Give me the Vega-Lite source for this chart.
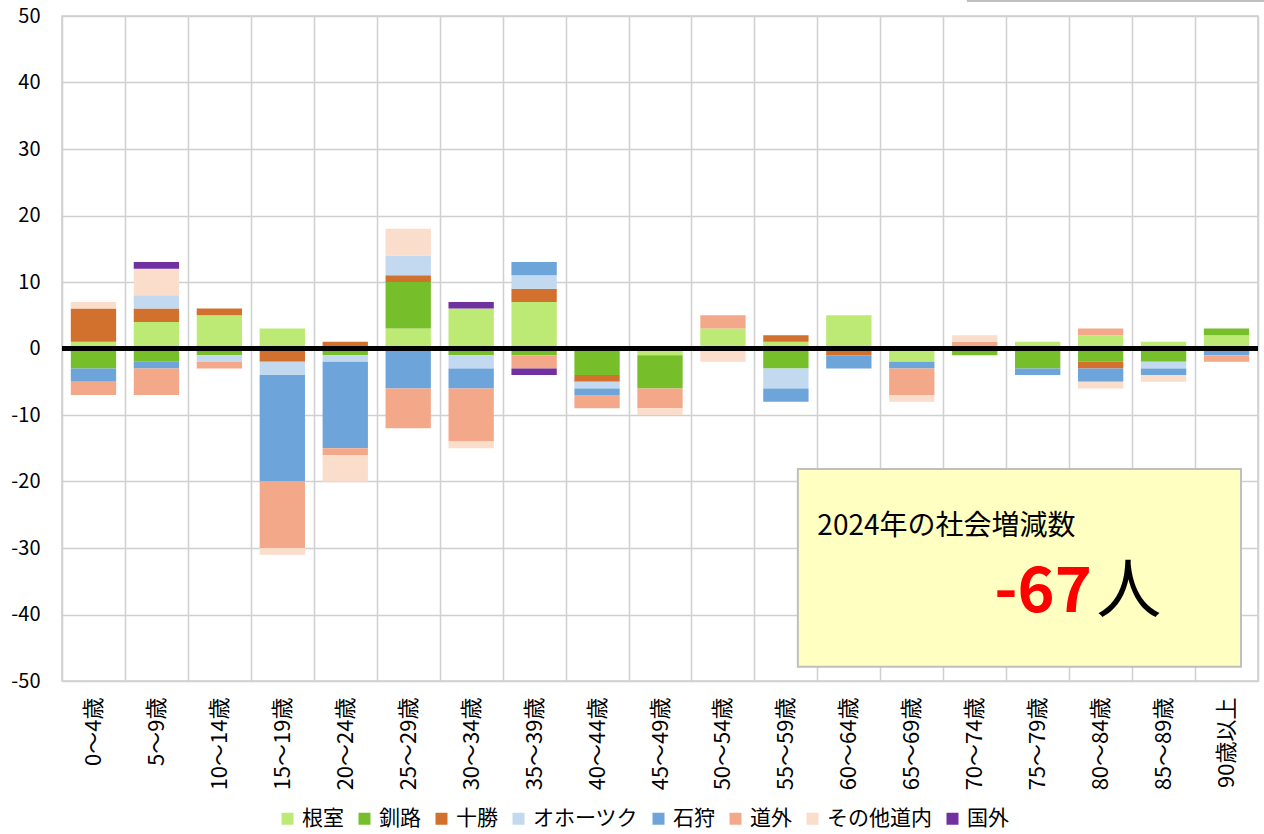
{
  "$schema": "https://vega.github.io/schema/vega-lite/v6.json",
  "width": 1196,
  "height": 665,
  "autosize": {"type": "none"},
  "padding": {"left": 62, "top": 16, "right": 6, "bottom": 153},
  "config": {
    "font": "Noto Sans CJK JP",
    "view": {"stroke": "#d0d0d0", "strokeWidth": 1.5},
    "axis": {"gridColor": "#d0d0d0", "gridWidth": 1.5, "labelColor": "#000000", "domain": false, "ticks": false}
  },
  "layer": [
    {
      "data": {"values": [
        {"age": "0～4歳", "region": "根室", "value": 1, "k": 1},
        {"age": "0～4歳", "region": "十勝", "value": 5, "k": 3},
        {"age": "0～4歳", "region": "その他道内", "value": 1, "k": 7},
        {"age": "0～4歳", "region": "釧路", "value": -3, "k": 2},
        {"age": "0～4歳", "region": "石狩", "value": -2, "k": 5},
        {"age": "0～4歳", "region": "道外", "value": -2, "k": 6},
        {"age": "5～9歳", "region": "根室", "value": 4, "k": 1},
        {"age": "5～9歳", "region": "十勝", "value": 2, "k": 3},
        {"age": "5～9歳", "region": "オホーツク", "value": 2, "k": 4},
        {"age": "5～9歳", "region": "その他道内", "value": 4, "k": 7},
        {"age": "5～9歳", "region": "国外", "value": 1, "k": 8},
        {"age": "5～9歳", "region": "釧路", "value": -2, "k": 2},
        {"age": "5～9歳", "region": "石狩", "value": -1, "k": 5},
        {"age": "5～9歳", "region": "道外", "value": -4, "k": 6},
        {"age": "10～14歳", "region": "根室", "value": 5, "k": 1},
        {"age": "10～14歳", "region": "十勝", "value": 1, "k": 3},
        {"age": "10～14歳", "region": "釧路", "value": -1, "k": 2},
        {"age": "10～14歳", "region": "オホーツク", "value": -1, "k": 4},
        {"age": "10～14歳", "region": "道外", "value": -1, "k": 6},
        {"age": "15～19歳", "region": "根室", "value": 3, "k": 1},
        {"age": "15～19歳", "region": "十勝", "value": -2, "k": 3},
        {"age": "15～19歳", "region": "オホーツク", "value": -2, "k": 4},
        {"age": "15～19歳", "region": "石狩", "value": -16, "k": 5},
        {"age": "15～19歳", "region": "道外", "value": -10, "k": 6},
        {"age": "15～19歳", "region": "その他道内", "value": -1, "k": 7},
        {"age": "20～24歳", "region": "十勝", "value": 1, "k": 3},
        {"age": "20～24歳", "region": "釧路", "value": -1, "k": 2},
        {"age": "20～24歳", "region": "オホーツク", "value": -1, "k": 4},
        {"age": "20～24歳", "region": "石狩", "value": -13, "k": 5},
        {"age": "20～24歳", "region": "道外", "value": -1, "k": 6},
        {"age": "20～24歳", "region": "その他道内", "value": -4, "k": 7},
        {"age": "25～29歳", "region": "根室", "value": 3, "k": 1},
        {"age": "25～29歳", "region": "釧路", "value": 7, "k": 2},
        {"age": "25～29歳", "region": "十勝", "value": 1, "k": 3},
        {"age": "25～29歳", "region": "オホーツク", "value": 3, "k": 4},
        {"age": "25～29歳", "region": "その他道内", "value": 4, "k": 7},
        {"age": "25～29歳", "region": "石狩", "value": -6, "k": 5},
        {"age": "25～29歳", "region": "道外", "value": -6, "k": 6},
        {"age": "30～34歳", "region": "根室", "value": 6, "k": 1},
        {"age": "30～34歳", "region": "国外", "value": 1, "k": 8},
        {"age": "30～34歳", "region": "釧路", "value": -1, "k": 2},
        {"age": "30～34歳", "region": "オホーツク", "value": -2, "k": 4},
        {"age": "30～34歳", "region": "石狩", "value": -3, "k": 5},
        {"age": "30～34歳", "region": "道外", "value": -8, "k": 6},
        {"age": "30～34歳", "region": "その他道内", "value": -1, "k": 7},
        {"age": "35～39歳", "region": "根室", "value": 7, "k": 1},
        {"age": "35～39歳", "region": "十勝", "value": 2, "k": 3},
        {"age": "35～39歳", "region": "オホーツク", "value": 2, "k": 4},
        {"age": "35～39歳", "region": "石狩", "value": 2, "k": 5},
        {"age": "35～39歳", "region": "釧路", "value": -1, "k": 2},
        {"age": "35～39歳", "region": "道外", "value": -2, "k": 6},
        {"age": "35～39歳", "region": "国外", "value": -1, "k": 8},
        {"age": "40～44歳", "region": "釧路", "value": -4, "k": 2},
        {"age": "40～44歳", "region": "十勝", "value": -1, "k": 3},
        {"age": "40～44歳", "region": "オホーツク", "value": -1, "k": 4},
        {"age": "40～44歳", "region": "石狩", "value": -1, "k": 5},
        {"age": "40～44歳", "region": "道外", "value": -2, "k": 6},
        {"age": "45～49歳", "region": "根室", "value": -1, "k": 1},
        {"age": "45～49歳", "region": "釧路", "value": -5, "k": 2},
        {"age": "45～49歳", "region": "道外", "value": -3, "k": 6},
        {"age": "45～49歳", "region": "その他道内", "value": -1, "k": 7},
        {"age": "50～54歳", "region": "根室", "value": 3, "k": 1},
        {"age": "50～54歳", "region": "道外", "value": 2, "k": 6},
        {"age": "50～54歳", "region": "その他道内", "value": -2, "k": 7},
        {"age": "55～59歳", "region": "根室", "value": 1, "k": 1},
        {"age": "55～59歳", "region": "十勝", "value": 1, "k": 3},
        {"age": "55～59歳", "region": "釧路", "value": -3, "k": 2},
        {"age": "55～59歳", "region": "オホーツク", "value": -3, "k": 4},
        {"age": "55～59歳", "region": "石狩", "value": -2, "k": 5},
        {"age": "60～64歳", "region": "根室", "value": 5, "k": 1},
        {"age": "60～64歳", "region": "十勝", "value": -1, "k": 3},
        {"age": "60～64歳", "region": "石狩", "value": -2, "k": 5},
        {"age": "65～69歳", "region": "根室", "value": -2, "k": 1},
        {"age": "65～69歳", "region": "石狩", "value": -1, "k": 5},
        {"age": "65～69歳", "region": "道外", "value": -4, "k": 6},
        {"age": "65～69歳", "region": "その他道内", "value": -1, "k": 7},
        {"age": "70～74歳", "region": "道外", "value": 1, "k": 6},
        {"age": "70～74歳", "region": "その他道内", "value": 1, "k": 7},
        {"age": "70～74歳", "region": "釧路", "value": -1, "k": 2},
        {"age": "75～79歳", "region": "根室", "value": 1, "k": 1},
        {"age": "75～79歳", "region": "釧路", "value": -3, "k": 2},
        {"age": "75～79歳", "region": "石狩", "value": -1, "k": 5},
        {"age": "80～84歳", "region": "根室", "value": 2, "k": 1},
        {"age": "80～84歳", "region": "道外", "value": 1, "k": 6},
        {"age": "80～84歳", "region": "釧路", "value": -2, "k": 2},
        {"age": "80～84歳", "region": "十勝", "value": -1, "k": 3},
        {"age": "80～84歳", "region": "石狩", "value": -2, "k": 5},
        {"age": "80～84歳", "region": "その他道内", "value": -1, "k": 7},
        {"age": "85～89歳", "region": "根室", "value": 1, "k": 1},
        {"age": "85～89歳", "region": "釧路", "value": -2, "k": 2},
        {"age": "85～89歳", "region": "オホーツク", "value": -1, "k": 4},
        {"age": "85～89歳", "region": "石狩", "value": -1, "k": 5},
        {"age": "85～89歳", "region": "その他道内", "value": -1, "k": 7},
        {"age": "90歳以上", "region": "根室", "value": 2, "k": 1},
        {"age": "90歳以上", "region": "釧路", "value": 1, "k": 2},
        {"age": "90歳以上", "region": "石狩", "value": -1, "k": 5},
        {"age": "90歳以上", "region": "道外", "value": -1, "k": 6}
      ]},
      "mark": {"type": "bar", "width": {"band": 0.72}},
      "encoding": {
        "x": {
          "field": "age", "type": "nominal",
          "sort": ["0～4歳","5～9歳","10～14歳","15～19歳","20～24歳","25～29歳","30～34歳","35～39歳","40～44歳","45～49歳","50～54歳","55～59歳","60～64歳","65～69歳","70～74歳","75～79歳","80～84歳","85～89歳","90歳以上"],
          "scale": {"paddingInner": 0, "paddingOuter": 0},
          "axis": {"title": null, "labelAngle": -90, "labelFontSize": 22, "labelPadding": 16, "grid": true, "tickBand": "extent", "labelLimit": 200}
        },
        "y": {
          "field": "value", "type": "quantitative", "stack": "zero",
          "scale": {"domain": [-50, 50], "nice": false},
          "axis": {"title": null, "values": [-50,-40,-30,-20,-10,0,10,20,30,40,50], "labelFontSize": 20, "labelPadding": 22, "grid": true, "labelExpr": "'' + datum.value"}
        },
        "color": {
          "field": "region", "type": "nominal",
          "scale": {
            "domain": ["根室","釧路","十勝","オホーツク","石狩","道外","その他道内","国外"],
            "range": ["#BDEA74","#77BF2A","#D2702E","#C2D9F0","#6DA4DA","#F4A88A","#FBDDCB","#7030A0"]
          },
          "legend": {"title": null, "orient": "none", "legendX": 215, "legendY": 792, "direction": "horizontal", "symbolType": "square", "symbolSize": 144, "labelFontSize": 21, "columnPadding": 10, "labelLimit": 300, "symbolStrokeWidth": 0}
        },
        "order": {"field": "k", "type": "quantitative"}
      }
    },
    {
      "data": {"values": [{}]},
      "mark": {"type": "rule", "color": "#000000", "strokeWidth": 5},
      "encoding": {"y": {"datum": 0, "type": "quantitative"}}
    },
    {
      "data": {"values": [{}]},
      "layer": [
        {
          "mark": {"type": "rect", "fill": "#FFFFC2", "stroke": "#BFBFBF", "strokeWidth": 2},
          "encoding": {
            "x": {"datum": 11.69, "type": "quantitative", "scale": {"domain": [0, 19], "nice": false}, "axis": null},
            "x2": {"datum": 18.73},
            "y": {"datum": -18.12, "type": "quantitative"},
            "y2": {"datum": -47.85}
          }
        },
        {
          "mark": {"type": "rect", "fill": "#FFFFC2", "stroke": "#BFBFBF", "strokeWidth": 2},
          "encoding": {
            "x": {"datum": 14.39, "type": "quantitative", "scale": {"domain": [0, 19], "nice": false}, "axis": null},
            "x2": {"datum": 19.6},
            "y": {"datum": 52.25, "type": "quantitative"},
            "y2": {"datum": 56}
          }
        },
        {
          "mark": {"type": "text", "text": "2024年の社会増減数", "fontSize": 28, "align": "left", "baseline": "alphabetic", "color": "#000000"},
          "encoding": {
            "x": {"datum": 12.0, "type": "quantitative", "scale": {"domain": [0, 19], "nice": false}, "axis": null},
            "y": {"datum": -28.05, "type": "quantitative"}
          }
        },
        {
          "mark": {"type": "text", "text": "-67", "fontSize": 63, "fontWeight": "bold", "align": "right", "baseline": "alphabetic", "color": "#FF0000"},
          "encoding": {
            "x": {"datum": 16.36, "type": "quantitative", "scale": {"domain": [0, 19], "nice": false}, "axis": null},
            "y": {"datum": -39.62, "type": "quantitative"}
          }
        },
        {
          "mark": {"type": "text", "text": "人", "fontSize": 65, "align": "left", "baseline": "alphabetic", "color": "#000000"},
          "encoding": {
            "x": {"datum": 16.43, "type": "quantitative", "scale": {"domain": [0, 19], "nice": false}, "axis": null},
            "y": {"datum": -39.62, "type": "quantitative"}
          }
        }
      ]
    }
  ],
  "resolve": {"scale": {"x": "independent"}}
}
